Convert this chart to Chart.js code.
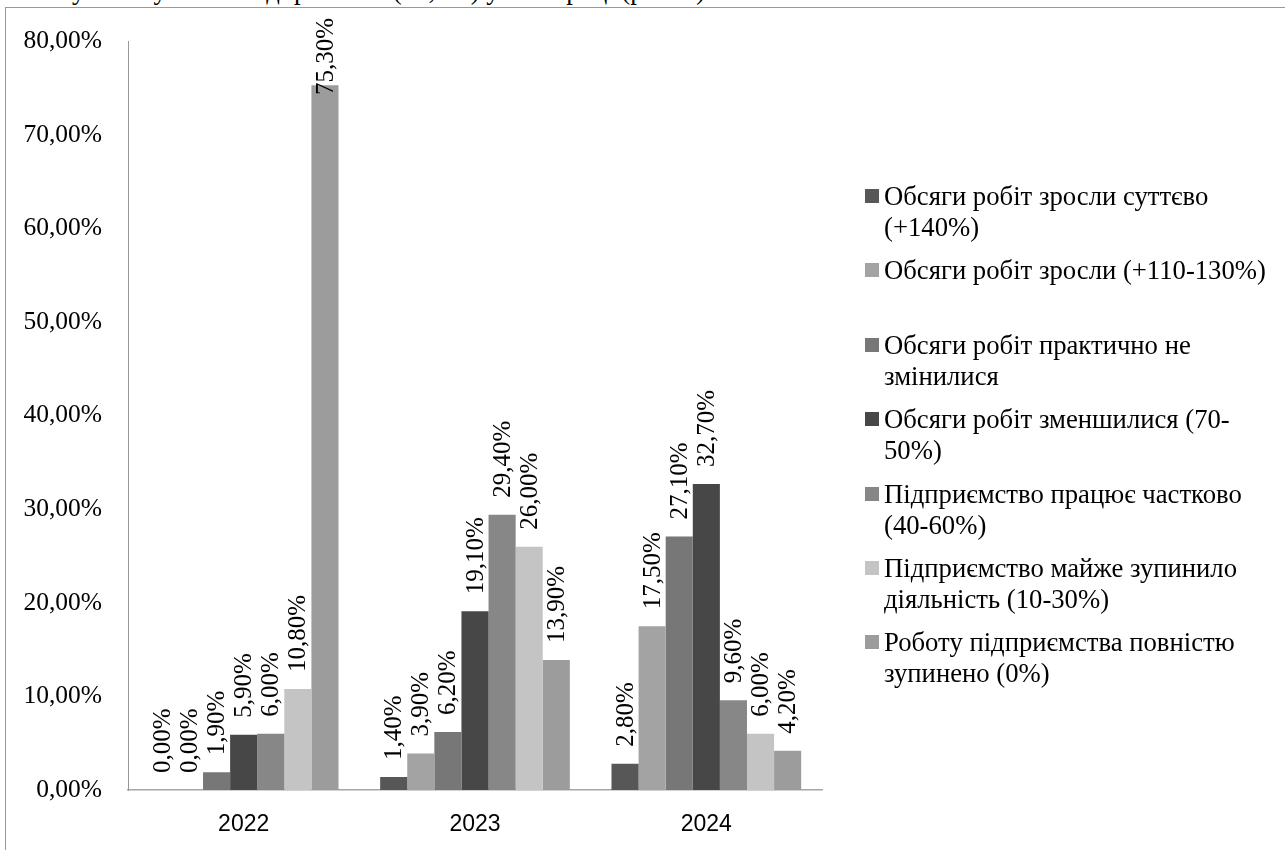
<!DOCTYPE html>
<html>
<head>
<meta charset="utf-8">
<script src="https://cdn.jsdelivr.net/npm/chart.js@4"></script>
<style>
  body { margin: 0; background: #fff; width: 1285px; height: 850px; overflow: hidden; position: relative; }
  #topText { position: absolute; left: 5px; top: -25px; font: 26.7px "Liberation Serif", serif; white-space: nowrap; color: #000; }
  #frame { position: absolute; left: 5px; top: 7px; width: 1400px; height: 900px; border: 1px solid #999; }
  #chartBox { position: absolute; left: 0; top: 0; }
  #legend { position: absolute; left: 865px; top: 181px; width: 411px; font: 26.7px "Liberation Serif", serif; color: #000; }
  .item { display: flex; height: 74.4px; line-height: 31px; }
  .item .mark { width: 14px; height: 14px; margin-top: 8px; margin-right: 5px; flex: none; }
</style>
</head>
<body>
<div id="topText">більшу частку таких підприємств (39,9%) у 2023 році (рис. 2).</div>
<div id="frame"></div>
<canvas id="chartBox" width="1285" height="850"></canvas>
<div id="legend"></div>
<script>
// categories and values (percent)
const years = ['2022', '2023', '2024'];
const seriesNames = [
  'Обсяги робіт зросли суттєво (+140%)',
  'Обсяги робіт зросли (+110-130%)',
  'Обсяги робіт практично не змінилися',
  'Обсяги робіт зменшилися (70-50%)',
  'Підприємство працює частково (40-60%)',
  'Підприємство майже зупинило діяльність (10-30%)',
  'Роботу підприємства повністю зупинено (0%)'
];
const grewStrong = [0.0, 1.4, 2.8];
const grew = [0.0, 3.9, 17.5];
const noChange = [1.9, 6.2, 27.1];
const decreased = [5.9, 19.1, 32.7];
const partial = [6.0, 29.4, 9.6];
const almostStopped = [10.8, 26.0, 6.0];
const stopped = [75.3, 13.9, 4.2];
const yTicks = [0, 10, 20, 30, 40, 50, 60, 70, 80];

const colors = ['#575757', '#a3a3a3', '#777777', '#474747', '#878787', '#c4c4c4', '#9c9c9c'];
const allValues = [grewStrong, grew, noChange, decreased, partial, almostStopped, stopped];

function pct(v) {
  return v.toFixed(2).replace('.', ',') + '%';
}

// vertical value labels above bars
const barLabels = {
  id: 'barLabels',
  afterDatasetsDraw(chart) {
    const ctx = chart.ctx;
    ctx.save();
    ctx.font = '25px "Liberation Serif"';
    ctx.fillStyle = '#000';
    ctx.textAlign = 'left';
    ctx.textBaseline = 'middle';
    chart.data.datasets.forEach(function (ds, i) {
      chart.getDatasetMeta(i).data.forEach(function (bar, j) {
        const txt = pct(ds.data[j]);
        const w = ctx.measureText(txt).width;
        let start = bar.y - 17;
        if (start - w < 18) start = 18 + w;
        ctx.save();
        ctx.translate(bar.x + 1, start);
        ctx.rotate(-Math.PI / 2);
        ctx.fillText(txt, 0, 0);
        ctx.restore();
      });
    });
    ctx.restore();
  }
};

const ctx = document.getElementById('chartBox');
const chart = new Chart(ctx, {
  type: 'bar',
  data: {
    labels: years,
    datasets: seriesNames.map(function (name, i) {
      return {
        label: name,
        data: allValues[i],
        backgroundColor: colors[i],
        borderWidth: 0
      };
    })
  },
  options: {
    responsive: false,
    animation: false,
    categoryPercentage: 0.82,
    barPercentage: 1.0,
    layout: { padding: { top: 37, right: 463, left: 0, bottom: 0 } },
    plugins: {
      legend: { display: false },
      tooltip: { enabled: false }
    },
    scales: {
      x: {
        grid: { display: false, drawTicks: false },
        border: { display: true, color: '#a6a6a6', width: 1.5 },
        ticks: { color: '#000', padding: 21, font: { family: 'Liberation Sans', size: 23 } },
        afterFit: function (scale) { scale.height = 60; }
      },
      y: {
        min: 0,
        max: 80,
        afterBuildTicks: function (scale) {
          scale.ticks = yTicks.map(function (v) { return { value: v }; });
        },
        grid: { display: false, drawTicks: false },
        border: { display: true, color: '#999', width: 1 },
        ticks: {
          color: '#000',
          padding: 26,
          font: { family: 'Liberation Serif', size: 25.5 },
          callback: function (v) { return pct(v); }
        },
        afterFit: function (scale) { scale.width = 128; }
      }
    }
  },
  plugins: [barLabels]
});

// legend with wrapped text
const legendBox = document.getElementById('legend');
chart.data.datasets.forEach(function (ds) {
  const item = document.createElement('div');
  item.className = 'item';
  const mark = document.createElement('span');
  mark.className = 'mark';
  mark.style.background = ds.backgroundColor;
  const txt = document.createElement('span');
  txt.textContent = ds.label;
  item.appendChild(mark);
  item.appendChild(txt);
  legendBox.appendChild(item);
});
</script>
</body>
</html>
